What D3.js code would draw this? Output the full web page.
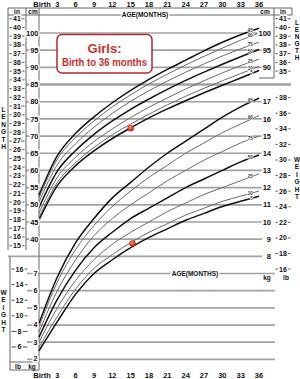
<!DOCTYPE html>
<html>
<head>
<meta charset="utf-8">
<script src="https://cdn.jsdelivr.net/npm/d3@7"></script>
<style>
  body { margin: 0; background: #fff; }
  text { font-family: "Liberation Sans", Arial, sans-serif; font-weight: bold; }
</style>
</head>
<body>
<div id="chart"></div>
<script>
// ages (months) the percentile curves are read at
var months = [0, 3, 6, 9, 12, 15, 18, 21, 24, 27, 30, 33, 36];

// length-for-age percentiles (cm)
var lenP5  = [45.6, 55.6, 61.4, 65.7, 69.3, 72.4, 75.3, 77.9, 80.3, 82.6, 84.8, 86.9, 89.1];
var lenP10 = [46.3, 56.5, 62.3, 66.7, 70.4, 73.5, 76.4, 79.1, 81.6, 83.9, 86.1, 88.2, 90.3];
var lenP25 = [47.6, 58.0, 63.9, 68.4, 72.1, 75.4, 78.4, 81.1, 83.7, 86.1, 88.4, 90.5, 92.4];
var lenP50 = [49.2, 59.8, 65.8, 70.5, 74.4, 77.8, 80.8, 83.6, 86.2, 88.6, 90.9, 93.1, 95.2];
var lenP75 = [50.8, 61.7, 67.8, 72.6, 76.6, 80.1, 83.2, 86.0, 88.6, 91.0, 93.3, 95.4, 97.3];
var lenP90 = [52.0, 63.3, 69.6, 74.4, 78.5, 82.0, 85.2, 88.0, 90.7, 93.2, 95.6, 97.9, 100.0];
var lenP95 = [52.8, 64.3, 70.8, 75.6, 79.7, 83.3, 86.5, 89.4, 92.1, 94.8, 97.3, 99.5, 101.4];

// weight-for-age percentiles (kg)
var wtP5  = [2.5, 4.2, 5.8, 7.0, 7.8, 8.5, 9.1, 9.6, 10.1, 10.5, 10.9, 11.2, 11.5];
var wtP10 = [2.7, 4.5, 6.1, 7.3, 8.1, 8.8, 9.4, 9.9, 10.4, 10.8, 11.2, 11.5, 11.8];
var wtP25 = [3.0, 5.0, 6.6, 7.8, 8.7, 9.4, 10.0, 10.6, 11.1, 11.6, 12.0, 12.4, 12.8];
var wtP50 = [3.3, 5.5, 7.2, 8.5, 9.4, 10.2, 10.8, 11.4, 12.0, 12.5, 13.0, 13.5, 13.9];
var wtP75 = [3.6, 6.0, 7.8, 9.2, 10.2, 11.0, 11.7, 12.4, 13.0, 13.6, 14.1, 14.6, 15.0];
var wtP90 = [3.9, 6.5, 8.4, 9.8, 10.9, 11.8, 12.6, 13.3, 14.0, 14.6, 15.2, 15.7, 16.2];
var wtP95 = [4.1, 6.8, 8.8, 10.2, 11.4, 12.3, 13.2, 14.0, 14.7, 15.4, 16.1, 16.7, 17.2];

var pctNames = ["95", "90", "75", "50", "25", "10", "5"];
var pctDark  = [true, false, false, true, false, false, true];

// measured points (red dots)
var lenPoint = {age: 15, value: 72.3};
var wtPoint  = {age: 15.3, value: 8.75};

// tick labels
var ageTicks = [0, 3, 6, 9, 12, 15, 18, 21, 24, 27, 30, 33, 36];
var ageLabels = ["Birth", "3", "6", "9", "12", "15", "18", "21", "24", "27", "30", "33", "36"];
var cmLeft = [100, 95, 90, 85, 80, 75, 70, 65, 60, 55, 50, 45, 40];
var inLeft = [41, 40, 39, 38, 37, 36, 35, 34, 33, 32, 31, 30, 29, 28, 27, 26, 25, 24, 23, 22, 21, 20, 19, 18, 17, 16, 15];
var cmRight = [100, 95, 90];
var inRight = [41, 40, 39, 38, 37, 36, 35];
var kgRight = [17, 16, 15, 14, 13, 12, 11, 10, 9, 8];
var lbRight = [38, 36, 34, 32, 30, 28, 26, 24, 22, 20, 18, 16];
var kgLeft = [7, 6, 5, 4, 3, 2];
var lbLeft = [16, 14, 12, 10, 8, 6];

var W = 300, H = 379;
var svg = d3.select("#chart").append("svg")
  .attr("width", W).attr("height", H);

// scales
var x = d3.scaleLinear().domain([0, 36]).range([39, 259]);
var yLen = d3.scaleLinear().domain([45, 100]).range([222, 33]);
var yWt = d3.scaleLinear().domain([2, 17]).range([359.4, 101.7]);
var yIn = function(v) { return yLen(v * 2.54); };
var yLb = function(v) { return yWt(v * 0.45359); };

var gridCol = "#a2a2a2";

// gridlines: length
svg.append("g").selectAll("line").data(cmLeft).enter().append("line")
  .attr("x1", 26).attr("x2", function(d) { return d == 85 ? 291 : 262; })
  .attr("y1", function(d) { return yLen(d); }).attr("y2", function(d) { return yLen(d); })
  .attr("stroke", gridCol).attr("stroke-width", function(d) { return d == 85 ? 2.4 : 1.7; });

// gridlines: lower weight
svg.append("g").selectAll("line").data(kgLeft.concat([8])).enter().append("line")
  .attr("x1", function(d) { return d == 8 ? 8 : 27; })
  .attr("x2", function(d) { return d == 8 ? 262 : 275; })
  .attr("y1", function(d) { return yWt(d); }).attr("y2", function(d) { return yWt(d); })
  .attr("stroke", gridCol).attr("stroke-width", 1.7);

// frame lines
var frame = svg.append("g").attr("stroke", "#666").attr("stroke-width", 1);
[[8, 8, 292, 8], [8, 15, 292, 15], [8, 8, 8, 250], [26, 8, 26, 250], [39, 8, 39, 370],
 [274, 8, 274, 78], [259, 78, 274, 78], [10, 257, 10, 370], [10, 362, 39, 362], [10, 370, 39, 370],
 [292, 8, 292, 15]].forEach(function(s) {
  frame.append("line").attr("x1", s[0]).attr("y1", s[1]).attr("x2", s[2]).attr("y2", s[3]);
});

// percentile curves
var line = d3.line().curve(d3.curveMonotoneX);
function drawSet(sets, yScale) {
  var g = svg.append("g").attr("fill", "none");
  sets.forEach(function(vals, i) {
    g.append("path")
      .attr("d", line(months.map(function(m, j) { return [x(m), yScale(vals[j])]; })))
      .attr("stroke", pctDark[i] ? "#111" : "#6a6a6a")
      .attr("stroke-width", pctDark[i] ? 1.5 : 1);
    svg.append("text")
      .attr("x", x(35)).attr("y", yScale(vals[vals.length - 1]) + 4)
      .attr("text-anchor", "end").attr("font-size", 4.5).attr("fill", "#333")
      .attr("stroke", "#fff").attr("stroke-width", 1.2).attr("paint-order", "stroke")
      .text(pctNames[i]);
  });
}
drawSet([lenP95, lenP90, lenP75, lenP50, lenP25, lenP10, lenP5], yLen);
drawSet([wtP95, wtP90, wtP75, wtP50, wtP25, wtP10, wtP5], yWt);

// label helpers
function haloText(g, xx, yy, t, anchor, size) {
  g.append("text").attr("x", xx).attr("y", yy).attr("dy", "0.35em")
    .attr("text-anchor", anchor).attr("font-size", size).attr("fill", "#111")
    .attr("stroke", "#fff").attr("stroke-width", 3).attr("paint-order", "stroke")
    .text(t);
}
function tickColumn(vals, yf, cx, half, anchor, tx) {
  var g = svg.append("g");
  vals.forEach(function(v) {
    g.append("line").attr("x1", cx - half).attr("x2", cx + half)
      .attr("y1", yf(v)).attr("y2", yf(v)).attr("stroke", "#222").attr("stroke-width", 0.8);
    haloText(g, tx, yf(v), v, anchor, 7);
  });
}

// left length columns
tickColumn(inLeft, yIn, 17, 7.5, "middle", 17);
var cmG = svg.append("g");
cmLeft.forEach(function(v) { haloText(cmG, 38.5, yLen(v), v, "end", 7.5); });
// right length / weight columns
var cmRG = svg.append("g");
cmRight.forEach(function(v) { haloText(cmRG, 271, yLen(v), v, "end", 7.5); });
kgRight.forEach(function(v) { haloText(cmRG, 271, yWt(v), v, "end", 7.5); });
tickColumn(inRight, yIn, 283, 7.5, "middle", 283);
tickColumn(lbRight, yLb, 283, 7.5, "middle", 283);
// lower left weight columns
tickColumn(lbLeft, yLb, 19.5, 8, "middle", 19.5);
var kgG = svg.append("g");
kgLeft.forEach(function(v) { haloText(kgG, 37.5, yWt(v) - (v == 2 ? 1 : 0), v, "end", 7); });

// column headers
var hdr = svg.append("g").attr("font-size", 6.5).attr("fill", "#111");
[["in", 17, 14], ["cm", 33, 14], ["cm", 265, 14], ["in", 283, 14],
 ["lb", 18, 368.5], ["kg", 32, 368.5], ["kg", 267, 280], ["lb", 286, 280]].forEach(function(h) {
  hdr.append("text").attr("x", h[1]).attr("y", h[2]).attr("text-anchor", "middle").text(h[0]);
});

// AGE(MONTHS) labels on lines
haloText(svg, 145, 15, "AGE(MONTHS)", "middle", 6.5);
haloText(svg, 195, yWt(7), "AGE(MONTHS)", "middle", 6.5);

// age tick labels top and bottom
var ax = svg.append("g").attr("font-size", 7.5).attr("fill", "#111").attr("text-anchor", "middle");
ageTicks.forEach(function(m, i) {
  var xx = x(m) + (m == 0 ? 3 : 0);
  ax.append("text").attr("x", xx).attr("y", 6.5).text(ageLabels[i]);
  ax.append("text").attr("x", xx).attr("y", 378).text(ageLabels[i]);
});

// vertical axis words
function vword(word, xx, y0, step) {
  var g = svg.append("g").attr("font-size", 6.5).attr("fill", "#111").attr("text-anchor", "middle");
  word.split("").forEach(function(c, i) {
    g.append("text").attr("x", xx).attr("y", y0 + i * step).text(c);
  });
}
vword("LENGTH", 3.5, 112, 7.4);
vword("WEIGHT", 3.5, 295, 7.4);
vword("LENGTH", 297, 25, 7);
vword("WEIGHT", 297, 162, 7.4);

// title box
svg.append("rect").attr("x", 57).attr("y", 34.5).attr("width", 95).attr("height", 38.5)
  .attr("rx", 5).attr("fill", "#fff").attr("stroke", "#b3282d").attr("stroke-width", 1.5);
svg.append("text").attr("x", 104.5).attr("y", 53).attr("text-anchor", "middle")
  .attr("font-size", 13).attr("fill", "#c8302c").text("Girls:");
svg.append("text").attr("x", 104.5).attr("y", 65.5).attr("text-anchor", "middle")
  .attr("font-size", 10.5).attr("textLength", 85).attr("lengthAdjust", "spacingAndGlyphs")
  .attr("fill", "#c8302c").text("Birth to 36 months");

// red dots
var grad = svg.append("defs").append("radialGradient").attr("id", "dot")
  .attr("cx", "40%").attr("cy", "35%").attr("r", "65%");
grad.append("stop").attr("offset", "0%").attr("stop-color", "#ff8a6a");
grad.append("stop").attr("offset", "100%").attr("stop-color", "#c8200c");
[[lenPoint, yLen], [wtPoint, yWt]].forEach(function(p) {
  svg.append("circle").attr("cx", x(p[0].age)).attr("cy", p[1](p[0].value))
    .attr("r", 3).attr("fill", "url(#dot)").attr("stroke", "#a01a08").attr("stroke-width", 0.5);
});
</script>
</body>
</html>
